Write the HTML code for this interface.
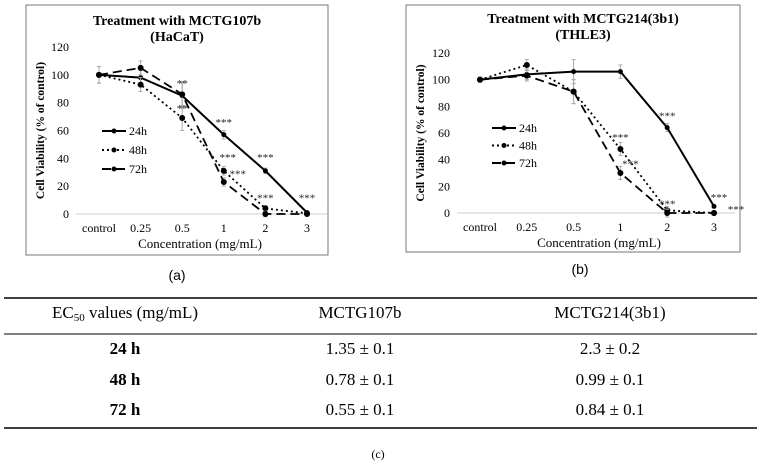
<!DOCTYPE html>
<html><head><meta charset="utf-8">
<style>
body{margin:0;background:#fff;width:761px;height:464px;overflow:hidden;font-family:"Liberation Serif",serif;}
svg{position:absolute;left:0;top:0}
</style></head><body>
<svg id="fig" width="761" height="464" xmlns="http://www.w3.org/2000/svg">
<rect x="26" y="5" width="302" height="250" fill="#fff" stroke="#777" stroke-width="1"/>
<rect x="406" y="5" width="334" height="247" fill="#fff" stroke="#777" stroke-width="1"/>
<text x="177" y="25" text-anchor="middle" font-weight="bold" font-size="14">Treatment with MCTG107b</text>
<text x="177" y="41" text-anchor="middle" font-weight="bold" font-size="14">(HaCaT)</text>
<text x="583" y="23" text-anchor="middle" font-weight="bold" font-size="14">Treatment with MCTG214(3b1)</text>
<text x="583" y="39" text-anchor="middle" font-weight="bold" font-size="14">(THLE3)</text>
<text x="177" y="280" text-anchor="middle" font-size="14" font-family="Liberation Sans,sans-serif">(a)</text>
<text x="580" y="274" text-anchor="middle" font-size="14" font-family="Liberation Sans,sans-serif">(b)</text>
<line x1="4" y1="298" x2="757" y2="298" stroke="#000" stroke-width="1.5"/>
<line x1="4" y1="334" x2="757" y2="334" stroke="#000" stroke-width="1"/>
<line x1="4" y1="428" x2="757" y2="428" stroke="#000" stroke-width="1.5"/>
<g font-size="17" text-anchor="middle">
<text x="125" y="318">EC<tspan font-size="11" dy="3">50</tspan><tspan dy="-3"> values (mg/mL)</tspan></text>
<text x="360" y="318">MCTG107b</text>
<text x="610" y="318">MCTG214(3b1)</text>
<text x="125" y="354" font-weight="bold">24 h</text>
<text x="360" y="354">1.35 ± 0.1</text>
<text x="610" y="354">2.3 ± 0.2</text>
<text x="125" y="385" font-weight="bold">48 h</text>
<text x="360" y="385">0.78 ± 0.1</text>
<text x="610" y="385">0.99 ± 0.1</text>
<text x="125" y="415" font-weight="bold">72 h</text>
<text x="360" y="415">0.55 ± 0.1</text>
<text x="610" y="415">0.84 ± 0.1</text>
</g>
<text x="378" y="458" text-anchor="middle" font-size="12">(c)</text>
</svg>
<script>
const categories = ["control","0.25","0.5","1","2","3"];
const yTicks = [0,20,40,60,80,100,120];
const seriesNames = ["24h","48h","72h"];
const a24 = [100,98,85,57,31,1];
const a48 = [100,93,69,31,4,0.5];
const a72 = [100,105,86,23,0,0];
const b24 = [100,104,106,106,64,5];
const b48 = [100,111,91,48,2,0];
const b72 = [100,103,91,30,0,0];
const aErr = [6,5,9,3,2,1];
const bErr = [2,4,9,5,3,1];

const NS="http://www.w3.org/2000/svg";
const svg=document.getElementById('fig');
function mk(tag,attrs,parent){const e=document.createElementNS(NS,tag);for(const k in attrs)e.setAttribute(k,attrs[k]);(parent||svg).appendChild(e);return e;}
const dashes=["none","2,3","9,5"];

function chart(cfg,series,err){
  const g=mk('g',{});
  
  
  const xs=i=>cfg.x0+i*cfg.step;
  const ys=v=>cfg.y0-(v/120)*(cfg.y0-cfg.y120);
  const ax=mk('line',{x1:cfg.axL,y1:cfg.y0,x2:cfg.axR,y2:cfg.y0,stroke:'#ccc','stroke-width':1},g);
  
  
  yTicks.forEach(t=>{
    const tx=mk('text',{x:cfg.axL-7,y:ys(t)+4,'text-anchor':'end','font-size':12},g);
    tx.textContent=t;
    
    
  });
  categories.forEach((c,i)=>{
    const tx=mk('text',{x:xs(i),y:cfg.y0+18,'text-anchor':'middle','font-size':12},g);
    tx.textContent=c;
    
    
  });
  const xl=mk('text',{x:cfg.xTitleX,y:cfg.y0+34,'text-anchor':'middle','font-size':13},g);
  xl.textContent='Concentration (mg/mL)';
  
  
  const yl=mk('text',{x:0,y:0,'text-anchor':'middle','font-size':11.5,'font-weight':'bold',transform:`translate(${cfg.yTitleX},${(cfg.y0+cfg.y120)/2}) rotate(-90)`},g);
  yl.textContent='Cell Viability (% of control)';
  
  
  series.forEach((s,k)=>{
    s.forEach((v,i)=>{
      const e=err[i];
      const eb=mk('path',{d:`M${xs(i)},${ys(v-e)}V${ys(v+e)}M${xs(i)-2},${ys(v-e)}h4M${xs(i)-2},${ys(v+e)}h4`,stroke:'#aaa','stroke-width':1,fill:'none'},g);
      
      
    });
    const pl=mk('polyline',{points:s.map((v,i)=>xs(i)+','+ys(v)).join(' '),fill:'none',stroke:'#000','stroke-width':k==0?2:1.8,'stroke-dasharray':dashes[k]},g);
    
    
    s.forEach((v,i)=>{
      const c=mk('circle',{cx:xs(i),cy:ys(v),r:k==0?2.5:3,fill:'#000'},g);
      
      
    });
    const ly=cfg.legY+k*cfg.legDy;
    const ll=mk('line',{x1:cfg.legX,y1:ly,x2:cfg.legX+24,y2:ly,stroke:'#000','stroke-width':2,'stroke-dasharray':dashes[k]},g);
    
    
    const lc=mk('circle',{cx:cfg.legX+12,cy:ly,r:2.5,fill:'#000'},g);
    
    
    const lt=mk('text',{x:cfg.legX+27,y:ly+4,'font-size':12},g);
    lt.textContent=seriesNames[k];
    
    
  });
  cfg.stars.forEach(st=>{
    const t=mk('text',{x:xs(st[0])+st[3],y:ys(st[1])+4,'text-anchor':'middle','font-size':11,fill:'#222'},g);
    t.textContent=st[2];
    
    
  });
}
chart({id:'chart-a',x0:99,step:41.6,y0:214,y120:47,axL:76,axR:327,xTitleX:200,yTitleX:44,legX:102,legY:131,legDy:19,
  stars:[[2,94,'**',0],[2,76,'**',0],[3,66,'***',0],[3,41,'***',4],[3,29,'***',14],[4,41,'***',0],[4,12,'***',0],[5,12,'***',0]]},[a24,a48,a72],aErr);
chart({id:'chart-b',x0:480,step:46.8,y0:213,y120:53,axL:457,axR:735,xTitleX:599,yTitleX:424,legX:492,legY:128,legDy:17.5,
  stars:[[4,73,'***',0],[3,57,'***',0],[3,37,'***',10],[4,7,'***',0],[5,12,'***',5],[5,3,'***',22]]},[b24,b48,b72],bErr);
</script>
</body></html>
